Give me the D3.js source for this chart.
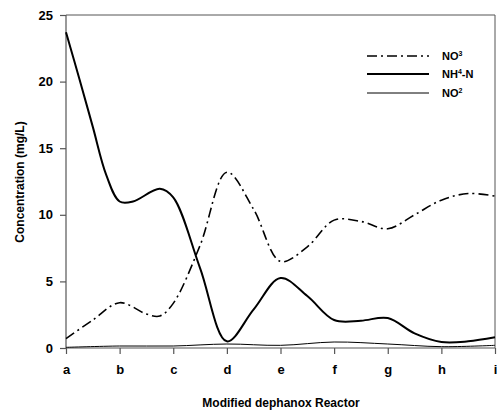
<!DOCTYPE html>
<html><head><meta charset="utf-8">
<script src="https://cdn.jsdelivr.net/npm/d3@7"></script>
<style>body{margin:0;background:#fff}svg{display:block}text{font-family:"Liberation Sans",Arial,sans-serif;font-weight:bold;fill:#000}</style>
</head><body><svg id="c" width="497" height="410"></svg>
<script>
const categories = ["a","b","c","d","e","f","g","h","i"];
const yTicks = [0,5,10,15,20,25];
// positions in category units (0 = a ... 8 = i)
const nh4X = [0,0.25,0.5,0.75,1,1.25,1.75,2,2.5,3,3.5,4,4.5,5,5.5,6,6.5,7,7.5,8];
const nh4Y = [23.7,20.2,16.6,13.0,11.0,11.0,11.95,11.3,6.0,0.5,2.9,5.25,3.9,2.1,2.05,2.25,1.1,0.45,0.5,0.8];
const no3X = [0,0.5,1,1.5,1.75,2,2.5,3,3.5,4,4.5,5,5.5,6,6.5,7,7.5,8];
const no3Y = [0.7,2.1,3.4,2.55,2.4,3.35,7.7,13.2,10.4,6.5,7.6,9.6,9.5,8.95,10.0,11.1,11.6,11.4];
const no2X = [0,1,2,3,4,5,6,7,8];
const no2Y = [0.05,0.15,0.15,0.3,0.2,0.45,0.3,0.1,0.2];

const svg = d3.select("#c");
const m = {l:66, r:495, t:15, b:348};
const x = d3.scaleLinear().domain([0,8]).range([m.l,m.r]);
const y = d3.scaleLinear().domain([0,25]).range([m.b,m.t]);
const axisCol = "#555";

svg.append("line").attr("x1",m.l).attr("x2",m.r).attr("y1",m.t).attr("y2",m.t).attr("stroke",axisCol);
svg.append("line").attr("x1",m.r).attr("x2",m.r).attr("y1",m.t).attr("y2",m.b).attr("stroke",axisCol);

const yAxis = svg.append("g").attr("transform",`translate(${m.l},0)`)
  .call(d3.axisLeft(y).tickValues(yTicks).tickSize(6).tickPadding(7).tickFormat(d3.format("d")));
const xAxis = svg.append("g").attr("transform",`translate(0,${m.b})`)
  .call(d3.axisBottom(x).tickValues(d3.range(9)).tickSize(6).tickPadding(11).tickFormat(i=>categories[i]));
[yAxis,xAxis].forEach(g=>{
  g.selectAll("path,line").attr("stroke",axisCol).attr("stroke-width",1.2);
  g.selectAll("text").style("font-size","13px").style("font-family","'Liberation Sans',Arial,sans-serif").style("font-weight","bold").attr("fill","#000");
});
yAxis.select(".domain").attr("d",`M-0,${m.b}V${m.t}`);
xAxis.select(".domain").attr("d",`M${m.l},0H${m.r}`);

const line = d3.line().curve(d3.curveCatmullRom.alpha(0.5));
const mk = (xs,ys)=>xs.map((v,i)=>[x(v),y(ys[i])]);
svg.append("path").attr("d",line(mk(no2X,no2Y))).attr("fill","none").attr("stroke","#000").attr("stroke-width",1);
svg.append("path").attr("d",line(mk(no3X,no3Y))).attr("fill","none").attr("stroke","#000").attr("stroke-width",1.6).attr("stroke-dasharray","10,4,2,4");
svg.append("path").attr("d",line(mk(nh4X,nh4Y))).attr("fill","none").attr("stroke","#000").attr("stroke-width",2);

svg.append("text").attr("transform","translate(24,182) rotate(-90)").attr("text-anchor","middle").style("font-size","12px").text("Concentration (mg/L)");
svg.append("text").attr("x",281).attr("y",407).attr("text-anchor","middle").style("font-size","12px").text("Modified dephanox Reactor");

const leg = [
  {base:"NO", sup:"3", tail:"", dash:"10,4,2,4", w:1.6, y:56},
  {base:"NH", sup:"4", tail:"-N", dash:null, w:2, y:74},
  {base:"NO", sup:"2", tail:"", dash:null, w:1, y:93}
];
leg.forEach(d=>{
  svg.append("line").attr("x1",367).attr("x2",429).attr("y1",d.y).attr("y2",d.y).attr("stroke","#000").attr("stroke-width",d.w).attr("stroke-dasharray",d.dash);
  const t = svg.append("text").attr("x",442).attr("y",d.y+4).style("font-size","11px");
  t.append("tspan").text(d.base);
  t.append("tspan").attr("dy",-4).style("font-size","7px").text(d.sup);
  if(d.tail) t.append("tspan").attr("dy",4).text(d.tail);
});
</script></body></html>
